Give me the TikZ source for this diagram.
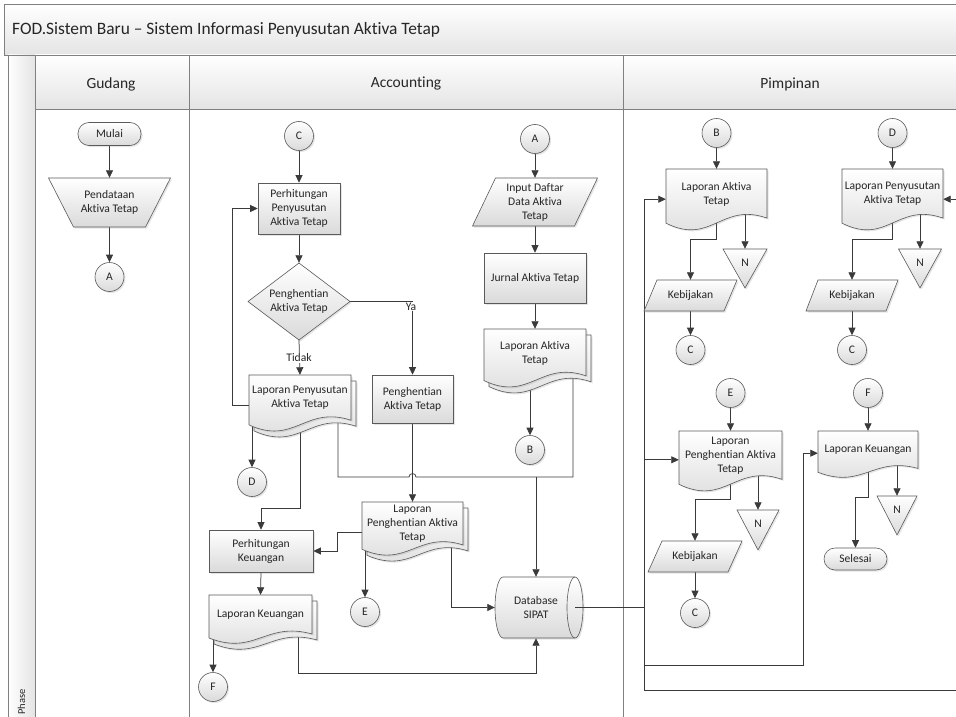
\documentclass[tikz,border=0pt]{standalone}
\usepackage{fontspec}
\setmainfont{Carlito}[Ligatures=NoCommon]
\usetikzlibrary{arrows.meta,shadows,calc}

\definecolor{ink}{HTML}{3A3A3A}
\definecolor{rim}{HTML}{5A5A5A}
\definecolor{lanerule}{HTML}{808080}
\definecolor{shadebot}{HTML}{DADADA}
\definecolor{barbot}{HTML}{E4E4E4}

\pgfdeclarelayer{lanes}
\pgfdeclarelayer{wires}
\pgfsetlayers{lanes,wires,main}

\tikzset{
  txt/.style={font=\fontsize{11.6}{14}\selectfont, text=black!85, align=center, inner sep=0pt},
  shp/.style={draw=rim, line width=0.6pt, top color=white, bottom color=shadebot,
    drop shadow={opacity=0.2, shadow xshift=1.5pt, shadow yshift=-1.5pt}},
  procbox/.style={shp, txt, rectangle},
  termbox/.style={shp, txt, rectangle, rounded corners=11pt, minimum width=63pt, minimum height=23pt},
  conn/.style={shp, txt, circle, minimum size=29pt},
  wire/.style={draw=ink, line width=0.75pt},
  arr/.style={wire, -{Triangle[length=7.5pt,width=7pt]}},
  tag/.style={txt, fill=white, inner sep=1pt},
  lanehead/.style={font=\fontsize{15.5}{18}\selectfont, text=black!85, inner sep=0pt},
}

% document with a wavy lower edge: left, top, width, height
\newcommand\docshape[4]{%
  \path[shp] (#1,#2) -- ({#1+#3},#2) -- ({#1+#3},{#2+0.78*#4})
    .. controls ({#1+0.55*#3},{#2+0.52*#4}) and ({#1+0.45*#3},{#2+1.22*#4}) ..
    (#1,{#2+0.86*#4}) -- cycle;}
% name, left, top, width, height, text
\newcommand\docnode[6]{%
  \docshape{#2}{#3}{#4}{#5}
  \node[txt, minimum width=#4, minimum height={0.8*#5}] (#1) at ({#2+0.5*#4},{#3+0.4*#5}) {#6};}
\newcommand\multidocnode[6]{%
  \docshape{#2+5}{#3+6}{#4}{#5}
  \docnode{#1}{#2}{#3}{#4}{#5}{#6}}
% data (parallelogram): name, cx, cy, width, height, slant, text
\newcommand\datanode[7]{%
  \path[shp] ({#2-#4/2+#6/2},{#3-#5/2}) -- ({#2+#4/2+#6/2},{#3-#5/2})
    -- ({#2+#4/2-#6/2},{#3+#5/2}) -- ({#2-#4/2-#6/2},{#3+#5/2}) -- cycle;
  \node[txt, minimum width=#4, minimum height=#5] (#1) at (#2,#3) {#7};}
% manual operation: name, cx, cy, top width, bottom width, height, text
\newcommand\manualnode[7]{%
  \path[shp] ({#2-#4/2},{#3-#6/2}) -- ({#2+#4/2},{#3-#6/2})
    -- ({#2+#5/2},{#3+#6/2}) -- ({#2-#5/2},{#3+#6/2}) -- cycle;
  \node[txt, minimum width=#5, minimum height=#6] (#1) at (#2,#3) {#7};}
% decision: name, cx, cy, width, height, text
\newcommand\decnode[6]{%
  \path[shp] (#2,{#3-#5/2}) -- ({#2+#4/2},#3) -- (#2,{#3+#5/2}) -- ({#2-#4/2},#3) -- cycle;
  \node[txt, minimum width=#4, minimum height=#5] (#1) at (#2,#3) {#6};}
% offline storage: name, cx, top, width, height
\newcommand\storenode[5]{%
  \path[shp] ({#2-#4/2},#3) -- ({#2+#4/2},#3) -- (#2,{#3+#5}) -- cycle;
  \node[txt, minimum width=#4, minimum height={0.7*#5}] (#1) at (#2,{#3+0.35*#5}) {N};}

\begin{document}
\begin{tikzpicture}[x=1pt,y=-1pt]
\useasboundingbox (0,0) rectangle (956,717);

% ---------- pool, lanes and headers
\begin{pgfonlayer}{lanes}
\begin{scope}
  \clip (0,0) rectangle (956,717);
  \fill[white] (0,0) rectangle (956,717);
  \path[draw=lanerule, line width=0.8pt, top color=white, bottom color=barbot] (4,4) rectangle (975,55);
  \path[draw=lanerule, line width=0.8pt, left color=white, right color=barbot] (8.5,55) rectangle (35,730);
  \path[draw=lanerule, line width=0.8pt, top color=white, bottom color=barbot] (35,55) rectangle (189,109);
  \path[draw=lanerule, line width=0.8pt, top color=white, bottom color=barbot] (189,55) rectangle (623,109);
  \path[draw=lanerule, line width=0.8pt, top color=white, bottom color=barbot] (623,55) rectangle (975,109);
  \draw[lanerule, line width=0.8pt] (35,109) -- (35,730) (189,109) -- (189,730) (623,109) -- (623,730);
\end{scope}
\node[font=\fontsize{17.4}{20}\selectfont, text=black!85, inner sep=0pt, anchor=west] (title) at (12,30) {FOD.Sistem Baru – Sistem Informasi Penyusutan Aktiva Tetap};
\node[lanehead] (hgud) at (111,84) {Gudang};
\node[lanehead] (hacc) at (406,84) {Accounting};
\node[lanehead] (hpim) at (790,84) {Pimpinan};
\node[txt, rotate=90, font=\fontsize{10.5}{12}\selectfont] (phase) at (21.5,702) {Phase};
\end{pgfonlayer}

% ---------- Gudang
\node[termbox] (mulai) at (109.5,134) {Mulai};
\manualnode{pendataan}{109.5}{202.5}{122}{72}{49}{Pendataan\\Aktiva Tetap}
\node[conn] (gA) at (109.5,277) {A};

% ---------- Accounting
\node[conn] (aC) at (299,136) {C};
\node[procbox, minimum width=82, minimum height=51] (phpen) at (299,208.5) {Perhitungan\\Penyusutan\\Aktiva Tetap};
\decnode{dec}{299}{301.5}{102}{77}{Penghentian\\Aktiva Tetap}
\multidocnode{lpen}{249}{375}{102}{58}{Laporan Penyusutan\\Aktiva Tetap}
\node[procbox, minimum width=81, minimum height=48] (penghent) at (412.5,399) {Penghentian\\Aktiva Tetap};
\node[conn] (aA) at (535,139) {A};
\datanode{input}{535}{202}{102}{48}{23}{Input Daftar\\Data Aktiva\\Tetap}
\node[procbox, minimum width=102, minimum height=50] (jurnal) at (535,278) {Jurnal Aktiva Tetap};
\multidocnode{lakt}{484}{329}{102}{60}{Laporan Aktiva\\Tetap}
\node[conn] (aB) at (530,450) {B};
\multidocnode{lpgh}{362}{502}{101}{55}{Laporan\\Penghentian Aktiva\\Tetap}
\node[procbox, minimum width=104, minimum height=42] (pkeu) at (261,551) {Perhitungan\\Keuangan};
\node[conn] (aD) at (252,482) {D};
\node[conn] (aE) at (365,612) {E};
\multidocnode{lkeu}{209}{595}{103}{50}{Laporan Keuangan}
\node[conn] (aF) at (213,687) {F};

% database drum
\path[shp] (503,577) -- (575,577) arc[start angle=90, end angle=-90, x radius=8pt, y radius=30.5pt]
  -- (503,638) arc[start angle=270, end angle=90, x radius=8pt, y radius=30.5pt] -- cycle;
\draw[rim, line width=0.6pt] (575,577) arc[start angle=90, end angle=270, x radius=8pt, y radius=30.5pt];
\node[txt, minimum width=82, minimum height=61] (db) at (536,607.5) {Database\\SIPAT};
\coordinate (dbout) at (575,607.5);
\coordinate (jS) at (644,607.5);
\draw[wire] (dbout) -- (jS);

\node[tag] (tidak) at (299,358) {Tidak};
\node[tag] (ya) at (411,306.5) {Ya};

% ---------- Pimpinan
\node[conn] (pB) at (716.5,133) {B};
\docnode{plakt}{666}{169}{101}{63}{Laporan Aktiva\\Tetap}
\storenode{pN1}{745}{249}{44}{39}
\datanode{pkeb1}{690.5}{295.5}{80}{31}{13}{Kebijakan}
\node[conn] (pC1) at (690.5,350) {C};

\node[conn] (pD) at (892.5,133) {D};
\docnode{plpen}{842}{169}{101}{63}{Laporan Penyusutan\\Aktiva Tetap}
\storenode{pN2}{920}{249}{43}{39}
\datanode{pkeb2}{852}{295.5}{80}{31}{12}{Kebijakan}
\node[conn] (pC2) at (852,350) {C};

\node[conn] (pE) at (730.5,393) {E};
\docnode{plpgh}{679}{431}{103}{62}{Laporan\\Penghentian Aktiva\\Tetap}
\storenode{pN3}{758}{510}{42}{40}
\datanode{pkeb3}{695}{556.5}{80}{31}{14}{Kebijakan}
\node[conn] (pC3) at (695,613) {C};

\node[conn] (pF) at (868,393) {F};
\docnode{plkeu}{818}{431}{100}{48}{Laporan Keuangan}
\storenode{pN4}{897}{496}{40}{39}
\node[termbox, minimum height=22] (selesai) at (855.5,559) {Selesai};

% ---------- connectors
\begin{pgfonlayer}{wires}
\begin{scope}
\clip (0,0) rectangle (956,717);
% Gudang
\draw[arr] (mulai.south) -- (pendataan.north);
\draw[arr] (pendataan.south) -- (gA.north);
% Accounting
\draw[arr] (aC.south) -- (phpen.north);
\draw[arr] (phpen.south) -- (dec.north);
\draw[arr] (dec.south) -- (lpen.north);
\draw[arr] (dec.east) -| (penghent.north);
\draw[arr] ([yshift=-7pt]lpen.west) -- ++(-16,0) |- (phpen.west);
\draw[arr] (aA.south) -- (input.north);
\draw[arr] (input.south) -- (jurnal.north);
\draw[arr] (jurnal.south) -- (lakt.north);
\draw[arr] (aB |- lakt.center) -- (aB.north);
\coordinate (jL) at (338,477);
\coordinate (jR) at (573,477);
\draw[wire] (jL |- lpen.center) -- (jL) -- ($(penghent.south |- jL)+(-3.5,0)$)
  arc[start angle=180, end angle=0, radius=3.5pt] -- (jR) -- (jR |- lakt.center);
\draw[arr] (db.north |- jL) -- (db.north);
\draw[arr] (penghent.south) -- (lpgh.north);
\coordinate (jK) at (300,508);
\draw[arr] (lpen.center) -- (lpen.center |- jK) -| (pkeu.north);
\draw[arr] ([yshift=-8pt]lpgh.west) -- ++(-24,0) |- (pkeu.east);
\draw[arr] (aD |- lpen.center) -- (aD.north);
\draw[arr] (aE |- lpgh.center) -- (aE.north);
\coordinate (jP) at (451,560);
\draw[arr] (jP |- lpgh.center) |- (db.west);
\draw[arr] (pkeu.south) -- (lkeu.north);
\draw[arr] (aF |- lkeu.center) -- (aF.north);
\coordinate (jQ) at (298,673);
\draw[arr] (jQ |- lkeu.center) -- (jQ) -| (db.south);
% from the database to the Pimpinan reports
\coordinate (jT) at (644,690);
\coordinate (jU) at (975,690);
\coordinate (jV) at (644,665);
\coordinate (jW) at (803,665);
\coordinate (inPa) at ($(plakt.west)+(0,5)$);
\coordinate (inPg) at ($(plpgh.west)+(0,4)$);
\coordinate (inPp) at ($(plpen.east)+(0,5)$);
\coordinate (inPk) at ($(plkeu.west)+(0,3)$);
\draw[arr] (jS) |- (inPa);
\draw[arr] (jS |- inPg) -- (inPg);
\draw[arr] (jS) -- (jT) -- (jU) |- (inPp);
\draw[arr] (jV) -- (jW) |- (inPk);
% Pimpinan
\coordinate (k1) at (0,239);
\coordinate (k3) at (0,499);
\coordinate (k4) at (0,497);
\draw[arr] (pB.south) -- (plakt.north);
\draw[arr] (pN1 |- plakt.center) -- (pN1.north);
\draw[arr] (plakt.center) -- (plakt.center |- k1) -| (pkeb1.north);
\draw[arr] (pkeb1.south) -- (pC1.north);
\draw[arr] (pD.south) -- (plpen.north);
\draw[arr] (pN2 |- plpen.center) -- (pN2.north);
\draw[arr] (plpen.center) -- (plpen.center |- k1) -| (pkeb2.north);
\draw[arr] (pkeb2.south) -- (pC2.north);
\draw[arr] (pE.south) -- (plpgh.north);
\draw[arr] (pN3 |- plpgh.center) -- (pN3.north);
\draw[arr] (plpgh.center) -- (plpgh.center |- k3) -| (pkeb3.north);
\draw[arr] (pkeb3.south) -- (pC3.north);
\draw[arr] (pF.south) -- (plkeu.north);
\draw[arr] (pN4 |- plkeu.center) -- (pN4.north);
\draw[arr] (plkeu.center) -- (plkeu.center |- k4) -| (selesai.north);
\end{scope}
\end{pgfonlayer}
\end{tikzpicture}
\end{document}
